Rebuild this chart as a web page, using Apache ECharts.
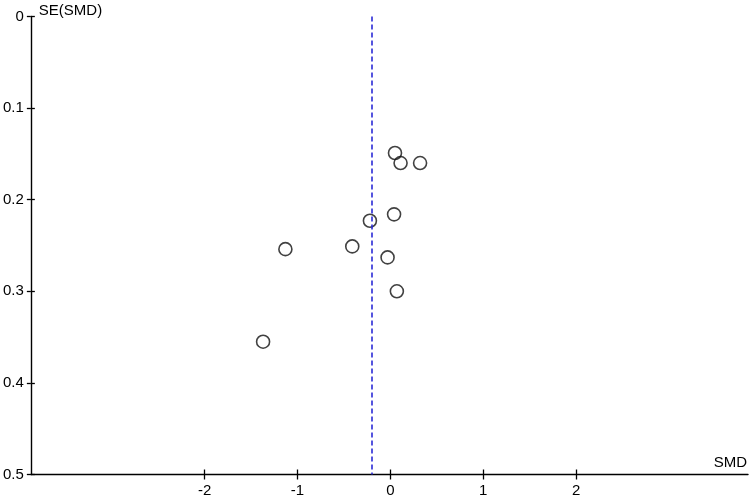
<!DOCTYPE html>
<html>
<head>
<meta charset="utf-8">
<script src="https://cdn.jsdelivr.net/npm/echarts@6/dist/echarts.min.js"></script>
<style>
	html, body { margin: 0; padding: 0; background: #fff; }
	#main { width: 750px; height: 502px; }
</style>
</head>
<body>
<div id="main"></div>
<script>
	// funnel plot data: SMD vs SE(SMD)
	var smd = [0.05, 0.11, 0.32, 0.04, -0.22, -0.41, -1.13, -0.03, 0.07, -1.37];
	var se = [0.149, 0.160, 0.160, 0.216, 0.223, 0.251, 0.254, 0.263, 0.300, 0.355];
	var pooled = -0.20;
	var xTicks = [-2, -1, 0, 1, 2];

	var points = [];
	for (var i = 0; i < smd.length; i++) {
		points.push([smd[i], se[i]]);
	}

	var font = 'Liberation Sans, Arial, sans-serif';
	var tickStyle = { color: '#000', width: 1.3 };

	var myChart = echarts.init(document.getElementById('main'));
	var option = {
		animation: false,
		backgroundColor: '#fff',
		grid: { left: 30, right: 2, top: 16.5, bottom: 27.5 },
		xAxis: [
			{
				type: 'value',
				position: 'bottom',
				min: -3.87,
				max: 3.85,
				name: 'SMD',
				nameLocation: 'end',
				nameGap: 0,
				nameTextStyle: {
					color: '#000', fontFamily: font, fontSize: 15,
					align: 'right', verticalAlign: 'bottom', padding: [0, 1, 4, 0]
				},
				axisLine: { show: true, onZero: false, lineStyle: { color: '#000', width: 1.4 } },
				splitLine: { show: false },
				axisTick: { show: true, customValues: xTicks, length: 5, lineStyle: tickStyle },
				axisLabel: { show: true, customValues: xTicks, margin: 9, color: '#000', fontFamily: font, fontSize: 15 }
			},
			{
				type: 'value', min: -3.87, max: 3.85, position: 'bottom',
				axisLine: { show: false, onZero: false }, splitLine: { show: false }, axisLabel: { show: false },
				axisTick: { show: true, inside: true, customValues: xTicks, length: 5, lineStyle: tickStyle }
			}
		],
		yAxis: [
			{
				type: 'value',
				position: 'left',
				min: 0,
				max: 0.5,
				interval: 0.1,
				inverse: true,
				name: 'SE(SMD)',
				nameLocation: 'start',
				nameGap: 6,
				nameTextStyle: {
					color: '#000', fontFamily: font, fontSize: 15,
					align: 'left', verticalAlign: 'middle', padding: [0, 0, 0, 8]
				},
				axisLine: { show: true, onZero: false, lineStyle: { color: '#000', width: 1.4 } },
				splitLine: { show: false },
				axisTick: { show: true, length: 4, lineStyle: tickStyle },
				axisLabel: {
					margin: 7, color: '#000', fontFamily: font, fontSize: 15,
					formatter: function (v) { return String(Math.round(v * 10) / 10); }
				}
			},
			{
				type: 'value', min: 0, max: 0.5, interval: 0.1, inverse: true, position: 'left',
				axisLine: { show: false, onZero: false }, splitLine: { show: false }, axisLabel: { show: false },
				axisTick: { show: true, inside: true, length: 4, lineStyle: tickStyle }
			}
		],
		series: [
			{
				type: 'scatter',
				xAxisIndex: 0,
				yAxisIndex: 0,
				data: points,
				symbol: 'circle',
				symbolSize: 13,
				itemStyle: { color: 'rgba(255,255,255,0)', borderColor: '#111', borderWidth: 1.6 },
				markLine: {
					silent: true,
					symbol: 'none',
					label: { show: false },
					lineStyle: { color: '#2b2bd6', type: [5, 3], width: 1.6 },
					data: [[{ coord: [pooled, 0] }, { coord: [pooled, 0.5] }]]
				},
				z: 3
			}
		]
	};
	myChart.setOption(option, true);
</script>
</body>
</html>
